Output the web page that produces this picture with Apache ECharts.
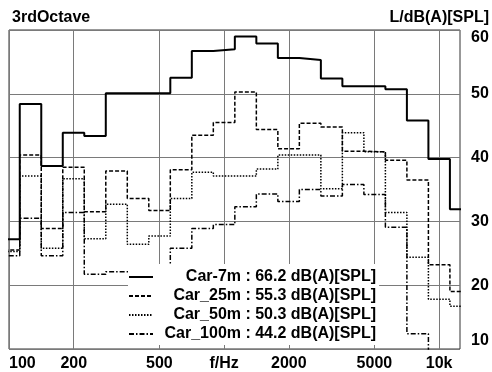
<!DOCTYPE html>
<html>
<head>
<meta charset="utf-8">
<script src="https://cdn.jsdelivr.net/npm/echarts@6/dist/echarts.min.js"></script>
<style>
  html, body { margin: 0; padding: 0; background: #fff; }
  #chart { width: 492px; height: 372px; }
</style>
</head>
<body>
<div id="chart"></div>
<script>
// third-octave band centres (Hz)
const bands = [100, 125, 160, 200, 250, 315, 400, 500, 630, 800, 1000, 1250, 1600, 2000, 2500, 3150, 4000, 5000, 6300, 8000, 10000, 12500];

// band levels, dB(A)
const car7m = [27.2, 48.4, 38.7, 43.9, 43.4, 50.1, 50.1, 50.1, 52.5, 56.7, 57.0, 59.0, 57.9, 55.6, 55.3, 52.4, 51.2, 51.2, 50.7, 45.8, 39.8, 31.9];
const car25m = [25.5, 40.4, 28.9, 38.5, 31.5, 37.9, 33.6, 31.7, 38.1, 43.5, 45.5, 50.3, 44.4, 41.4, 45.4, 44.8, 41.0, 40.9, 39.6, 36.5, 23.2, 19.0];
const car50m = [25.3, 37.1, 25.8, 36.7, 27.3, 32.7, 26.4, 27.7, 33.6, 37.7, 37.1, 37.1, 38.2, 40.4, 40.4, 35.1, 43.9, 40.9, 31.4, 24.4, 17.8, 16.7];
const car100m = [24.6, 30.5, 24.6, 31.4, 21.7, 22.1, 22.0, 23.0, 25.8, 28.9, 29.5, 32.3, 34.3, 33.1, 35.0, 34.0, 35.8, 34.2, 29.1, 12.4, 5.0, 5.0];

const seriesNames = ['Car-7m', 'Car_25m', 'Car_50m', 'Car_100m'];
const totals = [66.2, 55.3, 50.3, 44.2];

const xTicks = [100, 200, 500, 1000, 2000, 5000, 10000];
const xTickLabels = ['100', '200', '500', 'f/Hz', '2000', '5000', '10k'];

const FONT = '"Liberation Sans", Arial, sans-serif';
const BOLD16 = { fontFamily: FONT, fontSize: 16, fontWeight: 'bold', color: '#000' };
const dashes = ['solid', [4, 2], [1.5, 1.5], [5, 2, 1.5, 2]];
const widths = [2, 1.5, 1.5, 1.5];

// each band is drawn as a flat step from its lower to its upper edge
function stepPoints(values) {
  const half = Math.pow(10, 0.05);
  const exact = f => Math.pow(10, Math.round(10 * Math.log10(f)) / 10);
  const pts = bands.map((f, i) => [exact(f) / half, values[i]]);
  pts.push([exact(bands[bands.length - 1]) * half, values[values.length - 1]]);
  return pts;
}

// legend names are right-aligned in front of the colon: pad them with a spacer
const NAME_FIELD = 83;
const ctx = document.createElement('canvas').getContext('2d');
ctx.font = 'bold 16px ' + FONT;
const legendRich = {
  v: { ...BOLD16 },
  n: { ...BOLD16 },
};
seriesNames.forEach((name, i) => {
  legendRich['s' + i] = { ...BOLD16, width: Math.max(0, NAME_FIELD - ctx.measureText(name).width) };
});

const levels = [car7m, car25m, car50m, car100m];

const chart = echarts.init(document.getElementById('chart'), null, { renderer: 'canvas' });

chart.setOption({
  animation: false,
  backgroundColor: '#fff',
  textStyle: { fontFamily: FONT },
  title: [
    { text: '3rdOctave', left: 12, top: 10, padding: 0, textStyle: BOLD16 },
    { text: 'L/dB(A)[SPL]', right: 3, top: 10, padding: 0, textStyle: BOLD16 },
  ],
  grid: {
    left: 9, right: 32, top: 30, bottom: 17,
    show: true, borderColor: '#333', borderWidth: 1, backgroundColor: 'transparent',
  },
  xAxis: {
    type: 'log',
    logBase: 10,
    min: 100,
    max: 12500,
    axisLine: { show: false },
    axisTick: { show: false, customValues: xTicks },
    splitLine: { show: true, lineStyle: { color: '#7a7a7a', width: 1 } },
    axisLabel: {
      ...BOLD16,
      customValues: xTicks,
      margin: 7,
      alignMinLabel: 'left',
      formatter: v => xTickLabels[xTicks.indexOf(Math.round(v))] ?? '',
    },
  },
  yAxis: {
    type: 'value',
    position: 'right',
    min: 10,
    max: 60,
    interval: 10,
    axisLine: { show: false },
    axisTick: { show: false },
    splitLine: { show: true, lineStyle: { color: '#7a7a7a', width: 1 } },
    axisLabel: {
      ...BOLD16,
      margin: 11,
      verticalAlignMaxLabel: 'top',
      verticalAlignMinLabel: 'bottom',
    },
  },
  legend: {
    orient: 'vertical',
    left: 128,
    top: 264,
    padding: [5, 3, 3, 0],
    itemWidth: 24,
    itemHeight: 14,
    itemGap: 3,
    backgroundColor: '#fff',
    itemStyle: { opacity: 0 },
    data: seriesNames,
    formatter: name => {
      const i = seriesNames.indexOf(name);
      return `{s${i}| }{n|${name}}{v| : ${totals[i].toFixed(1)} dB(A)[SPL]}`;
    },
    textStyle: { ...BOLD16, rich: legendRich },
  },
  series: levels.map((vals, i) => ({
    name: seriesNames[i],
    type: 'line',
    step: 'end',
    symbol: 'none',
    clip: true,
    data: stepPoints(vals),
    lineStyle: { color: '#000', width: widths[i], type: dashes[i] },
    itemStyle: { color: '#000' },
  })),
});
</script>
</body>
</html>
